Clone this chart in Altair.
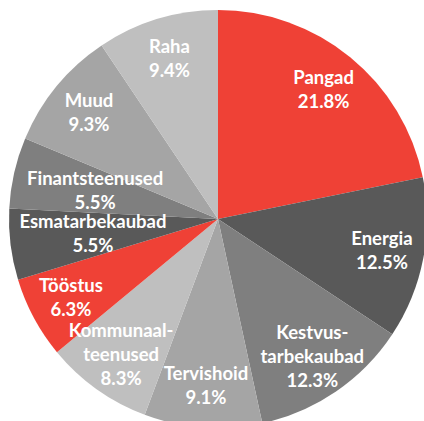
import altair as alt
import pandas as pd

categories = ["Pangad", "Energia", "Kestvus-tarbekaubad", "Tervishoid", "Kommunaal-teenused",
              "Tööstus", "Esmatarbekaubad", "Finantsteenused", "Muud", "Raha"]
labels = ["Pangad", "Energia", "Kestvus-\ntarbekaubad", "Tervishoid", "Kommunaal-\nteenused",
          "Tööstus", "Esmatarbekaubad", "Finantsteenused", "Muud", "Raha"]
shares = [21.8, 12.5, 12.3, 9.1, 8.3, 6.3, 5.5, 5.5, 9.3, 9.4]
colors = ["#EF4136", "#595959", "#7F7F7F", "#A5A5A5", "#BFBFBF",
          "#EF4136", "#595959", "#7F7F7F", "#A5A5A5", "#BFBFBF"]
inner_labels = ["Esmatarbekaubad", "Finantsteenused"]
total = sum(shares)

df = pd.DataFrame({
    "idx": list(range(len(categories))),
    "category": categories,
    "share": shares,
    "text": [f"{l}\n{s:.1f}%" for l, s in zip(labels, shares)],
})

pie = alt.Chart(df).mark_arc(outerRadius=209).encode(
    theta=alt.Theta("share:Q", stack=True),
    order=alt.Order("idx:Q", sort="ascending"),
    color=alt.Color("category:N", scale=alt.Scale(domain=categories, range=colors), legend=None),
)

inner_test = " || ".join(f"datum.category == '{c}'" for c in inner_labels)
text_base = alt.Chart(df).transform_window(
    cum="sum(share)", sort=[alt.SortField("idx", order="ascending")]
).transform_calculate(
    mid="datum.cum - datum.share / 2",
    lr=f"({inner_test}) ? 126 : 167",
    nlines="length(split(datum.text, '\\n'))",
)

LINE_H = 24


def text_layer(n):
    return text_base.transform_filter(f"datum.nlines == {n}").mark_text(
        font="Lato", fontSize=18.5, fontWeight="bold", color="white",
        align="center", baseline="middle", lineBreak="\n", lineHeight=LINE_H,
        dy=-(n - 1) * LINE_H / 2,
    ).encode(
        theta=alt.Theta("mid:Q", stack=None, scale=alt.Scale(domain=[0, total])),
        radius=alt.Radius("lr:Q", scale=None),
        text="text:N",
    )


chart = alt.layer(pie, text_layer(2), text_layer(3)).resolve_scale(theta="independent").properties(
    width=412, height=404,
    padding={"left": 12, "top": 17, "right": 0, "bottom": 0},
    autosize=alt.AutoSizeParams(type="none"),
).configure_view(stroke=None)

chart.save("out.html", embed_options={"renderer": "svg", "actions": False})
